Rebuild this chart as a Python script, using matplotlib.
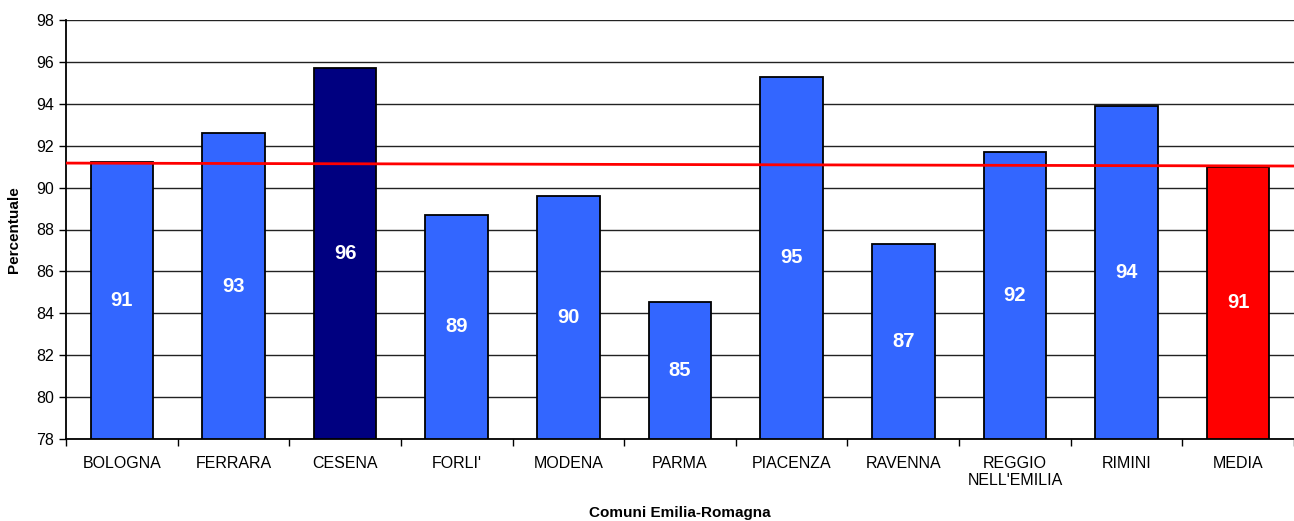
import matplotlib.pyplot as plt
import numpy as np

plt.rcParams["font.family"] = ["Liberation Sans", "DejaVu Sans"]

comuni = ["BOLOGNA", "FERRARA", "CESENA", "FORLI'", "MODENA", "PARMA",
          "PIACENZA", "RAVENNA", "REGGIO\nNELL'EMILIA", "RIMINI", "MEDIA"]
percentuali = [91.2, 92.6, 95.7, 88.7, 89.6, 84.52, 95.3, 87.3, 91.7, 93.9, 91.0]
bar_colors = ["#3366ff", "#3366ff", "#000080", "#3366ff", "#3366ff", "#3366ff",
              "#3366ff", "#3366ff", "#3366ff", "#3366ff", "#ff0000"]
# red reference line (slightly tilted, as in the source)
media_line = [91.17, 91.03]

fig = plt.figure(figsize=(12.94, 5.21), dpi=100)
ax = fig.add_axes([66 / 1294, 1 - 439 / 521, 1 - 66 / 1294, 419 / 521])

x = np.arange(len(comuni))
ax.bar(x, [v - 78 for v in percentuali], bottom=78, width=0.56,
       color=bar_colors, edgecolor="black", linewidth=1.3, zorder=3)

for xi, v in zip(x, percentuali):
    ax.text(xi, (78 + v) / 2, f"{round(v):.0f}", ha="center", va="center",
            color="white", fontsize=14.5, fontweight="bold", zorder=4)

ax.plot([-0.5, len(comuni) - 0.5], media_line, color="#ff0000",
        linewidth=2, zorder=5, solid_capstyle="butt")

ax.set_xlim(-0.5, len(comuni) - 0.5)
ax.set_ylim(78, 98)
ax.set_yticks(np.arange(78, 99, 2))
ax.yaxis.grid(True, color="#222222", linewidth=1, zorder=0)
ax.set_axisbelow(True)

ax.set_xticks(x)
ax.set_xticklabels(comuni, fontsize=11.5)
ax.tick_params(axis="x", length=0, pad=12)
ax.set_xticks(np.arange(-0.5, len(comuni), 1), minor=True)
ax.tick_params(axis="x", which="minor", length=5, direction="out", width=1)
ax.tick_params(axis="y", labelsize=11.5, length=5, width=1)

for side in ["top", "right"]:
    ax.spines[side].set_visible(False)
ax.spines["left"].set_linewidth(1.3)
ax.spines["bottom"].set_linewidth(1.3)

ax.set_xlabel("Comuni Emilia-Romagna", fontsize=11, fontweight="bold", labelpad=13)
ax.set_ylabel("Percentuale", fontsize=11, fontweight="bold", labelpad=11)

fig.savefig("out.png", dpi=100)
